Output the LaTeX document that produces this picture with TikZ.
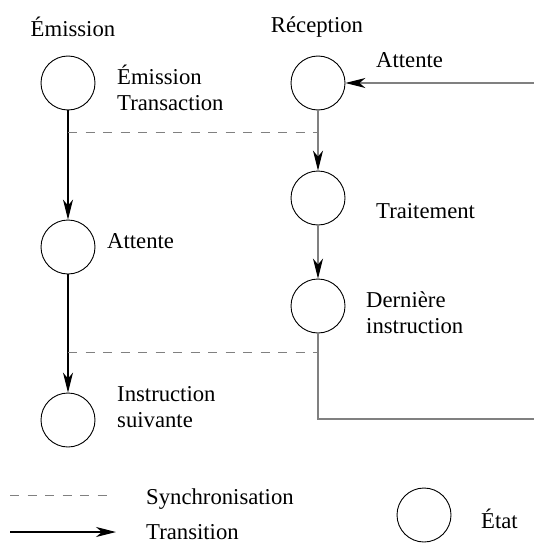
\documentclass[tikz,border=0pt]{standalone}
\usepackage{fontspec}
\setmainfont{Liberation Serif}
\usetikzlibrary{positioning, arrows.meta}

\begin{document}
\begin{tikzpicture}[x=1pt, y=-1pt, >={Stealth[length=20pt,width=10pt,inset=6pt,color=black]}]
        \tikzset{etat/.style={circle,draw,minimum size=54pt,inner sep=0pt,line width=0.9pt},
                 lbl/.style={anchor=west,inner sep=0pt,align=left,font=\fontsize{22.7}{26}\selectfont},
                 sync/.style={dash pattern=on 9pt off 8.5pt,color=gray,line width=1pt},
                 trans/.style={->,line width=1.1pt}}
        \useasboundingbox (0,0) rectangle (534,543);

        \node[lbl,anchor=center] (temis) at (73,27) {Émission};
        \node[lbl,anchor=center] (trecep) at (317,27) {Réception};

        % etats
        \node[etat] (e1) at (68,83) {};
        \node[etat] (e2) at (68,247) {};
        \node[etat] (e3) at (68,420) {};
        \node[etat] (r1) at (318,83) {};
        \node[etat] (r2) at (318,198) {};
        \node[etat] (r3) at (318,306) {};

        \node[lbl] (le1) at (117,88) {Émission\\Transaction};
        \node[lbl] (le2) at (107,241) {Attente};
        \node[lbl] (le3) at (117,407) {Instruction\\suivante};
        \node[lbl] (lr1) at (376,60) {Attente};
        \node[lbl] (lr2) at (376,211) {Traitement};
        \node[lbl] (lr3) at (366,313) {Dernière\\instruction};

        % transitions
        \draw[trans] (e1) -- (e2);
        \draw[trans] (e2) -- (e3);
        \coordinate (in) at (534,83);
        \draw[trans,gray] (in) -- (r1);
        \draw[trans,gray] (r1) -- (r2);
        \draw[trans,gray] (r2) -- (r3);
        \coordinate (coin) at (318,419);
        \coordinate (out) at (534,419);
        \draw[gray,line width=1.1pt] (r3) -- (coin) -- (out);

        % synchronisations
        \coordinate (s1a) at (68,132);
        \coordinate (s1b) at (318,132);
        \draw[sync] (s1a) -- (s1b);
        \coordinate (s2a) at (68,352);
        \coordinate (s2b) at (318,352);
        \draw[sync] (s2a) -- (s2b);

        % legende
        \coordinate (ls1) at (10,495);
        \coordinate (ls2) at (111,495);
        \draw[sync] (ls1) -- (ls2);
        \node[lbl,anchor=base west] (lsync) at (146,504) {Synchronisation};
        \coordinate (lt1) at (10,532);
        \coordinate (lt2) at (116,532);
        \draw[trans] (lt1) -- (lt2);
        \node[lbl,anchor=base west] (ltrans) at (146,539.5) {Transition};
        \node[etat] (leg) at (424,515) {};
        \node[lbl,anchor=base west] (letat) at (481,528) {État};
    \end{tikzpicture}
\end{document}
